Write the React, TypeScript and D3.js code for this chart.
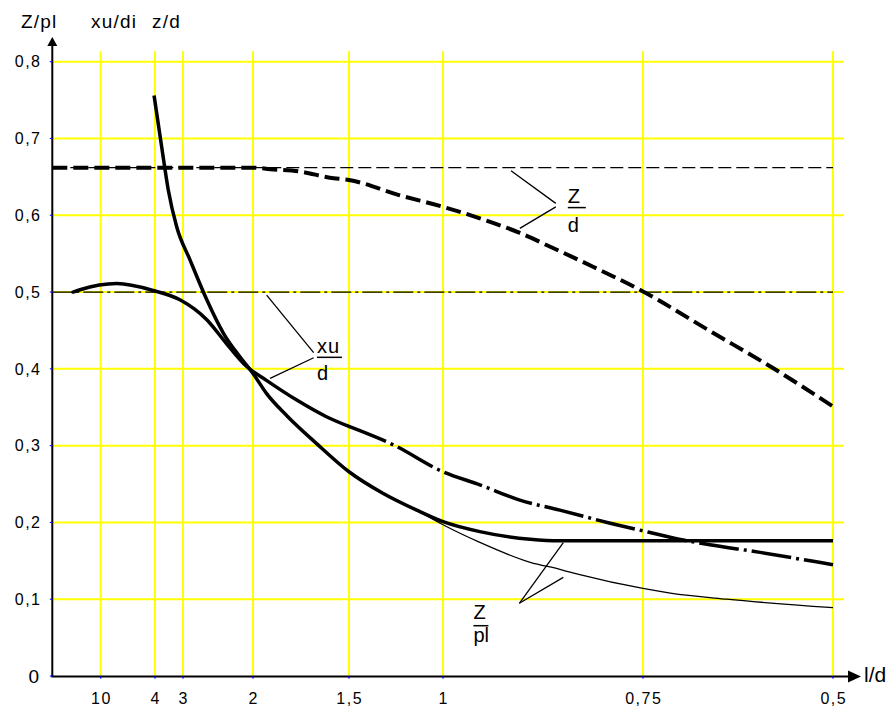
import React from "react";
import * as d3 from "d3";

// ---- axis ticks ----
const xTickValues = [10, 4, 3, 2, 1.5, 1, 0.75, 0.5];
const xTickLabels = ["10", "4", "3", "2", "1,5", "1", "0,75", "0,5"];
const yTickValues = [0, 0.1, 0.2, 0.3, 0.4, 0.5, 0.6, 0.7, 0.8];
const yTickLabels = ["0", "0,1", "0,2", "0,3", "0,4", "0,5", "0,6", "0,7", "0,8"];

// ---- reference levels ----
const zdLevel = 0.662;
const xuLevel = 0.5;

// ---- series: [l/d, value] ----
const zdCurve: [number, number][] = [
  [15.35, 0.662], [2.0, 0.662], [1.91, 0.66], [1.755, 0.657], [1.6, 0.649], [1.5, 0.646],
  [1.23, 0.626], [1.0, 0.611], [0.954, 0.596], [0.904, 0.577], [0.87, 0.561],
  [0.8125, 0.533], [0.754, 0.503], [0.658, 0.447], [0.579, 0.401], [0.5, 0.351],
];
const xuSolid: [number, number][] = [
  [13.06, 0.5], [12.29, 0.503], [8.23, 0.511], [4.19, 0.502], [3.11, 0.49], [2.66, 0.464],
  [2.38, 0.433], [2.09, 0.403], [1.93, 0.385], [1.77, 0.359], [1.62, 0.338], [1.5, 0.325],
];
const xuDashDot: [number, number][] = [
  [1.5, 0.325], [1.264, 0.301], [1.0, 0.266], [0.954, 0.249], [0.904, 0.229], [0.854, 0.216],
  [0.791, 0.199], [0.728, 0.184], [0.697, 0.177], [0.662, 0.171], [0.596, 0.161],
  [0.53, 0.15], [0.5, 0.145],
];
const zplThick: [number, number][] = [
  [4.1, 0.756], [3.76, 0.689], [3.525, 0.633], [3.225, 0.585], [2.9, 0.542], [2.66, 0.49],
  [2.42, 0.446], [2.19, 0.416], [2.0, 0.394], [1.93, 0.368], [1.82, 0.338], [1.67, 0.303],
  [1.5, 0.266], [1.32, 0.238], [1.14, 0.216], [1.0, 0.201], [0.954, 0.188], [0.891, 0.178],
  [0.854, 0.176], [0.5, 0.176],
];
const zplThin: [number, number][] = [
  [1.14, 0.216], [1.0, 0.197], [0.954, 0.174], [0.891, 0.148], [0.854, 0.139], [0.829, 0.132],
  [0.75, 0.114], [0.714, 0.108], [0.64, 0.1], [0.5, 0.089],
];

// ---- layout ----
const W = 892;
const H = 709;
const left = 52.3;
const right = 833;
const top08 = 61.7;
const bottom0 = 676;
const xTickFrac = [0.062, 0.1315, 0.1674, 0.2571, 0.38, 0.5005, 0.7566, 1];
const FONT = "'Liberation Sans', Arial, sans-serif";

export default function App() {
  const plotW = right - left;
  const x = d3.scaleLinear().domain(xTickValues).range(xTickFrac.map((f) => left + f * plotW));
  const y = d3.scaleLinear().domain([0, 0.8]).range([bottom0, top08]);

  const smooth = d3
    .line<[number, number]>()
    .x((d) => x(d[0]))
    .y((d) => y(d[1]))
    .curve(d3.curveMonotoneX);

  const gridColor = "#ffff00";
  const gridTop = top08 - 10.5;
  const gridRight = right + 11;

  const seg = (a: [number, number], b: [number, number], k: string) => (
    <line key={k} x1={x(a[0])} y1={y(a[1])} x2={x(b[0])} y2={y(b[1])} stroke="#000" strokeWidth={1.3} />
  );

  return (
    <svg width={W} height={H} style={{ position: "absolute", left: 0, top: 0, background: "#fff" }}>
      <rect x={0} y={0} width={W} height={H} fill="#fff" />
      {/* grid */}
      {yTickValues.slice(1).map((v) => (
        <line key={"gy" + v} x1={left} x2={gridRight} y1={y(v)} y2={y(v)} stroke={gridColor} strokeWidth={2} />
      ))}
      {xTickValues.map((v) => (
        <line key={"gx" + v} x1={x(v)} x2={x(v)} y1={gridTop} y2={bottom0} stroke={gridColor} strokeWidth={2} />
      ))}

      {/* reference lines */}
      <line x1={left} x2={x(0.5)} y1={y(zdLevel)} y2={y(zdLevel)} stroke="#000" strokeWidth={1.3} strokeDasharray="13 5" />
      <line x1={left} x2={x(0.5)} y1={y(xuLevel)} y2={y(xuLevel)} stroke="#000" strokeWidth={1.3} strokeDasharray="20 4 3 4" />

      {/* curves */}
      <path d={smooth(zdCurve) || ""} fill="none" stroke="#000" strokeWidth={4} strokeDasharray="15 6" />
      <path d={smooth(xuSolid) || ""} fill="none" stroke="#000" strokeWidth={3.5} strokeLinecap="round" />
      <path d={smooth(xuDashDot) || ""} fill="none" stroke="#000" strokeWidth={3.5} strokeDasharray="40 5 3 5" />
      <path d={smooth(zplThin) || ""} fill="none" stroke="#000" strokeWidth={1.3} />
      <path d={smooth(zplThick) || ""} fill="none" stroke="#000" strokeWidth={3.5} />

      {/* annotations: Z/d */}
      {seg([0.859, 0.6155], [0.915, 0.658], "a1")}
      {seg([0.859, 0.611], [0.904, 0.583], "a2")}
      <g fontFamily={FONT} fontSize={20} fill="#000">
        <text x={x(0.844)} y={y(0.6155)}>Z</text>
        <line x1={x(0.844)} x2={x(0.844) + 18} y1={y(0.61)} y2={y(0.61)} stroke="#000" strokeWidth={1.5} />
        <text x={x(0.844)} y={y(0.5785)}>d</text>
      </g>
      {/* annotations: xu/d */}
      {seg([1.684, 0.4212], [1.929, 0.496], "b1")}
      {seg([1.684, 0.4145], [1.911, 0.3876], "b2")}
      <g fontFamily={FONT} fontSize={20} fill="#000">
        <text x={x(1.667)} y={y(0.4206)} letterSpacing={1}>xu</text>
        <line x1={x(1.667)} x2={x(1.667) + 25} y1={y(0.415)} y2={y(0.415)} stroke="#000" strokeWidth={1.5} />
        <text x={x(1.667)} y={y(0.3854)}>d</text>
      </g>
      {/* annotations: Z/pl */}
      {seg([0.9046, 0.0947], [0.8496, 0.1736], "c1")}
      {seg([0.9046, 0.0947], [0.8496, 0.1285], "c2")}
      <g fontFamily={FONT} fontSize={20} fill="#000">
        <text x={x(0.962)} y={y(0.0738)}>Z</text>
        <line x1={x(0.962)} x2={x(0.962) + 15} y1={y(0.0655)} y2={y(0.0655)} stroke="#000" strokeWidth={1.5} />
        <text x={x(0.962)} y={y(0.0443)}>pl</text>
      </g>

      {/* axes */}
      <line x1={left} x2={left} y1={bottom0 + 1} y2={44} stroke="#000" strokeWidth={2} />
      <path d={`M${left},37 L${left - 5},46 L${left + 5},46 Z`} fill="#000" />
      <line x1={left - 1} x2={850} y1={bottom0 + 0.5} y2={bottom0 + 0.5} stroke="#000" strokeWidth={2} />
      <path d={`M861,${bottom0 + 0.5} L848,${bottom0 - 5.5} L848,${bottom0 + 6.5} Z`} fill="#000" />

      {/* blue tick marks */}
      {yTickValues.map((v) => (
        <line key={"by" + v} x1={left - 2.5} x2={left + 0.5} y1={y(v)} y2={y(v)} stroke="#0000ff" strokeWidth={1} />
      ))}
      {xTickValues.map((v) => (
        <line key={"bx" + v} x1={x(v)} x2={x(v)} y1={bottom0} y2={bottom0 + 2.5} stroke="#0000ff" strokeWidth={1.5} />
      ))}

      {/* tick labels */}
      <g fontFamily={FONT} fill="#000">
        {yTickValues.map((v, i) =>
          i === 0 ? (
            <text key={"ly" + v} x={39} y={y(v) + 6.8} fontSize={19} textAnchor="end">
              {yTickLabels[i]}
            </text>
          ) : (
            <text key={"ly" + v} x={41.5} y={y(v) + 5.7} fontSize={16} textAnchor="end" letterSpacing={1.5}>
              {yTickLabels[i]}
            </text>
          )
        )}
        {xTickValues.map((v, i) => (
          <text key={"lx" + v} x={x(v) + 0.75} y={704} fontSize={16} textAnchor="middle" letterSpacing={1.5}>
            {xTickLabels[i]}
          </text>
        ))}
        <text x={864} y={682} fontSize={21}>l/d</text>
        <text x={21} y={28} fontSize={19} letterSpacing={1.2}>Z/pl</text>
        <text x={91} y={28} fontSize={19} letterSpacing={1.2}>xu/di</text>
        <text x={152} y={28} fontSize={19} letterSpacing={1.2}>z/d</text>
      </g>
    </svg>
  );
}
